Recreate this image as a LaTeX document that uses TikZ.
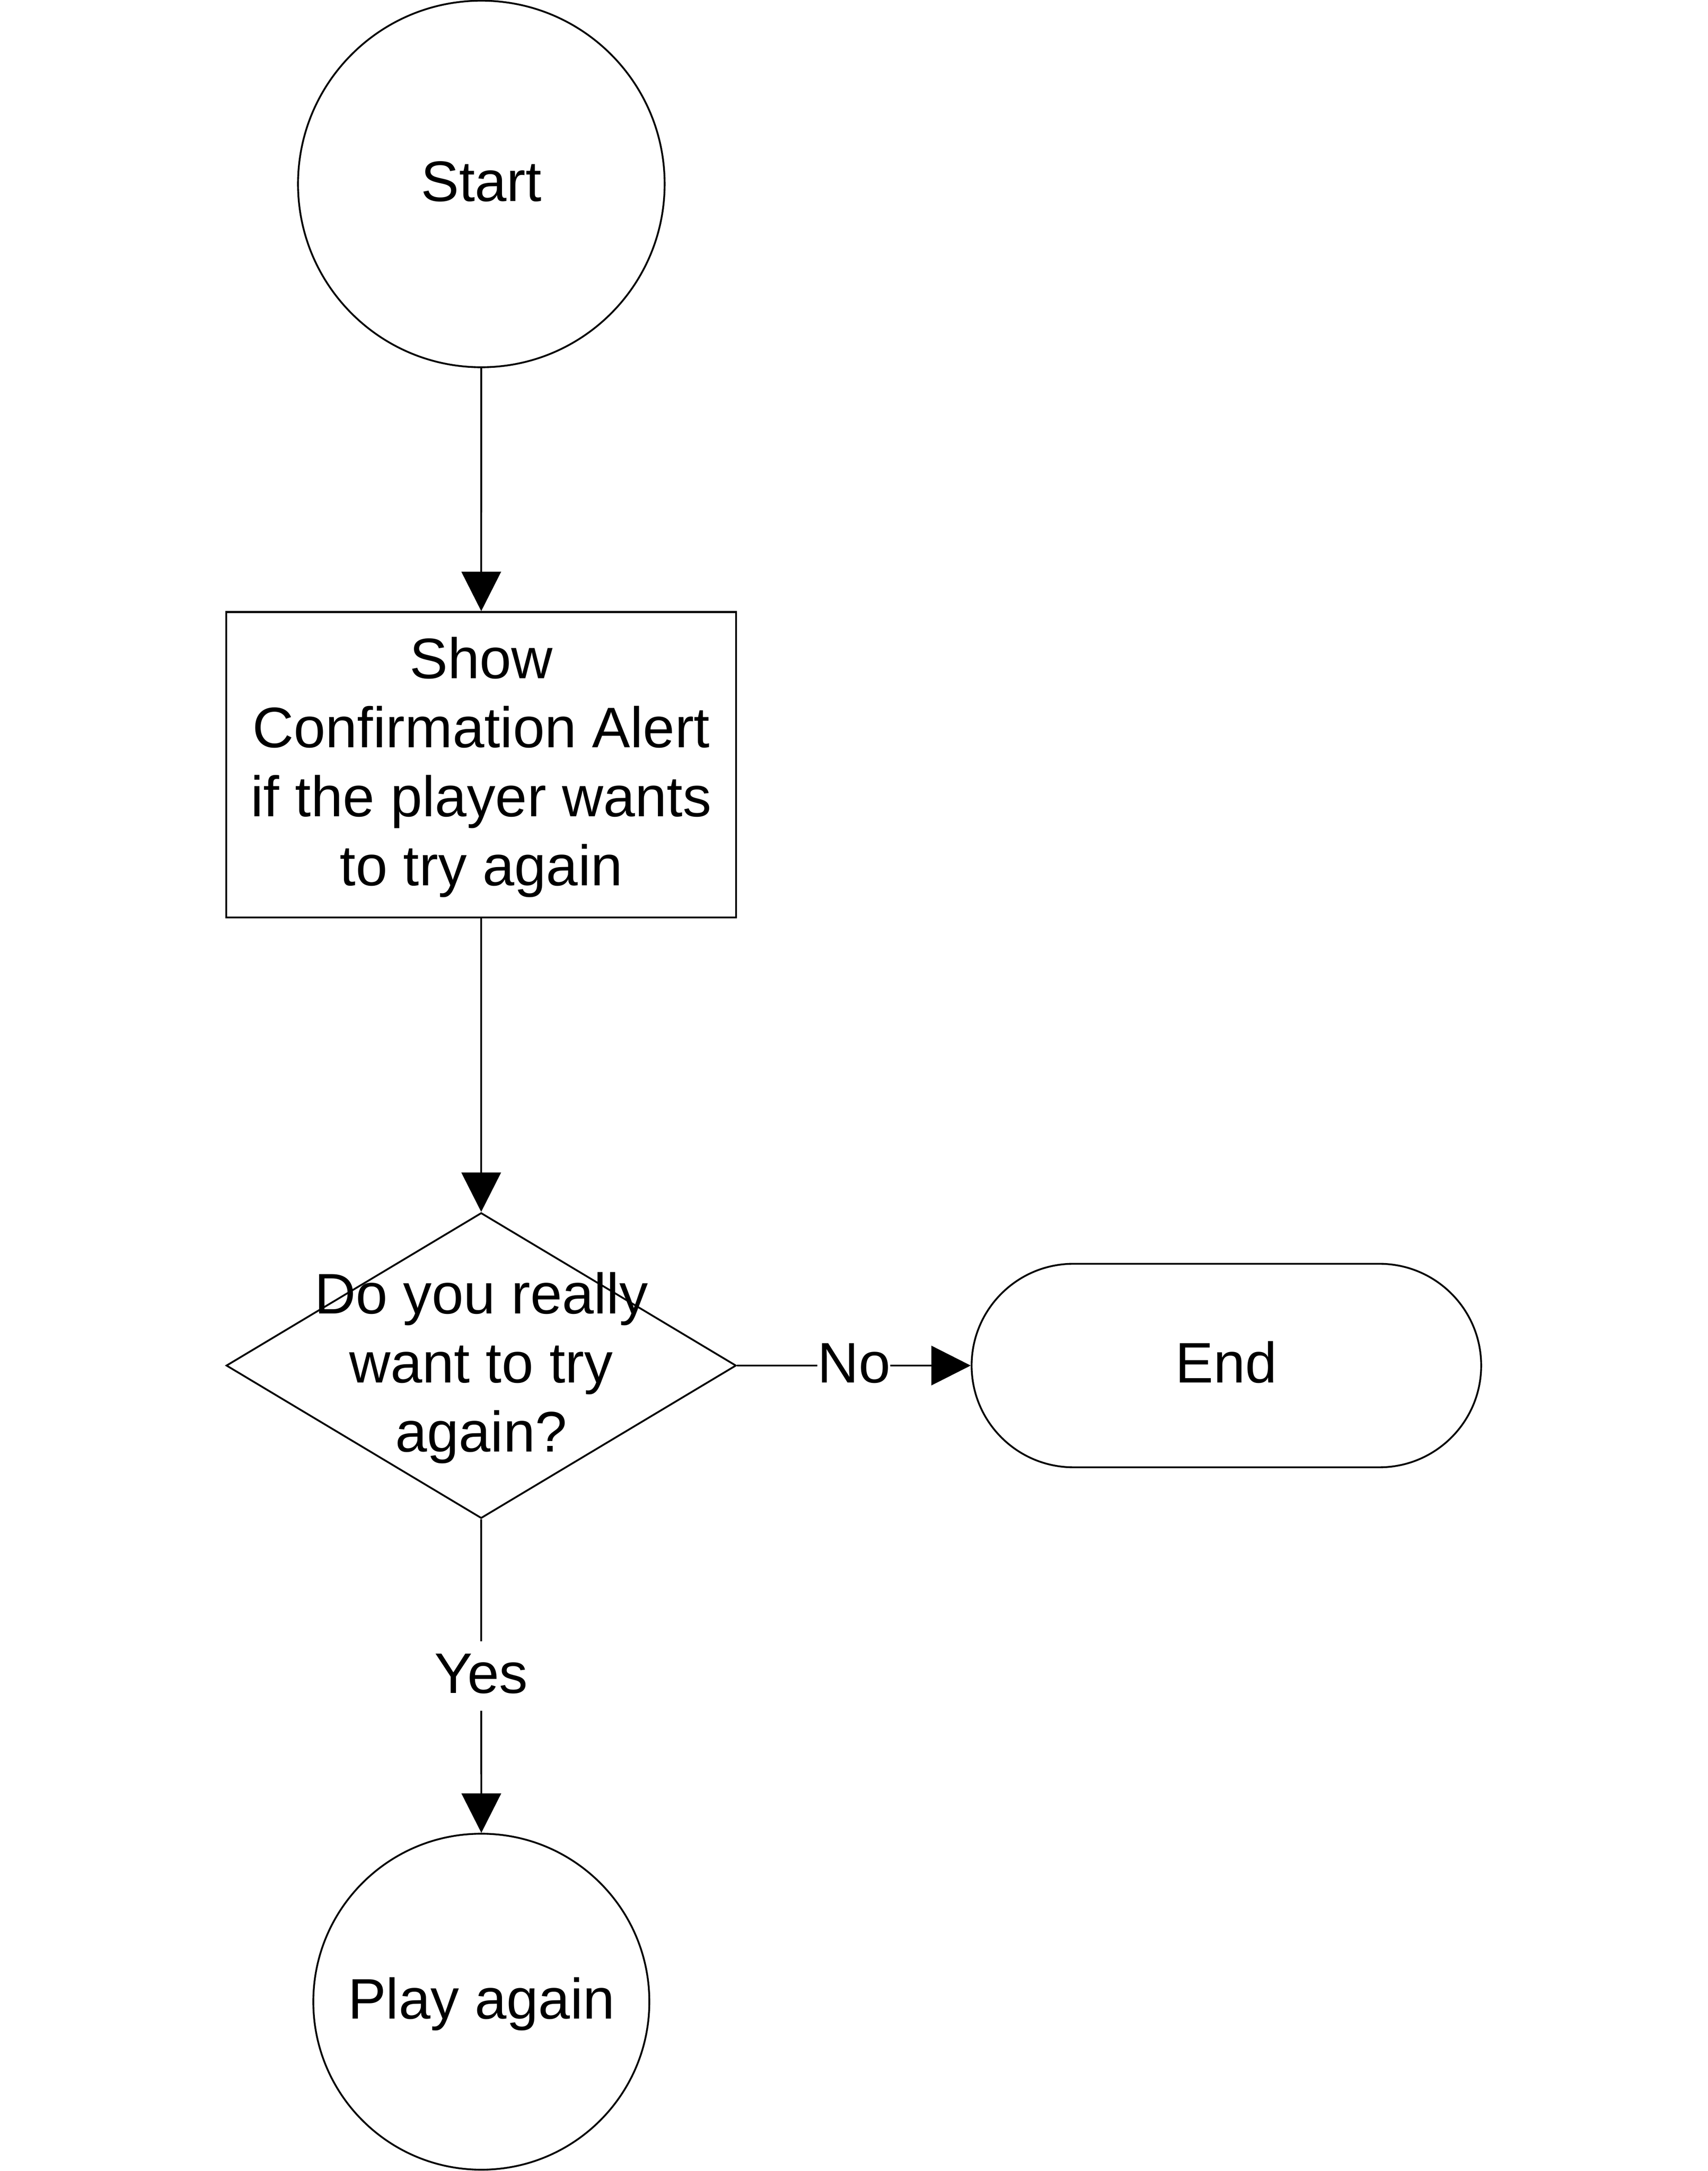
\documentclass[tikz,border=0pt]{standalone}
\usepackage{fontspec}
\setmainfont{Liberation Sans}
\usetikzlibrary{arrows.meta,shapes.geometric,shapes.misc}
\newcommand\vs{\rule[-12.6pt]{0pt}{50.2pt}}
\tikzset{
  txt/.style={inner sep=0pt, align=center, font=\fontsize{41.5pt}{50.2pt}\selectfont},
  base/.style={txt, draw=black, line width=1.3pt},
  circnode/.style={base, circle},
  procbox/.style={base, rectangle, minimum width=370pt, minimum height=221.9pt},
  decision/.style={base, diamond, minimum width=370.3pt, minimum height=221.9pt},
  termnode/.style={base, rounded rectangle, minimum width=370pt, minimum height=147.8pt},
  lbl/.style={txt, fill=white},
  arr/.style={line width=1.3pt, -{Triangle[length=28.6pt,width=28.6pt]}}
}
\begin{document}
\begin{tikzpicture}[x=1pt,y=-1pt]
\useasboundingbox (0,0) rectangle (1240,1576.66);
\node[circnode, minimum size=266.2pt] (start) at (349.5,133.6) {\vs Start};
\node[procbox] (show) at (349.4,555.4) {\vs Show\\Confirmation Alert\\if the player wants\\to try again\vs};
\node[decision] (dec) at (349.4,991.7) {};
\node[txt] (dectxt) at (dec.center) {\vs Do you really\\want to try\\again?\vs};
\node[termnode] (end) at (890.5,991.7) {\vs End};
\node[circnode, minimum size=244pt] (play) at (349.5,1453.7) {\vs Play again};
\draw[arr] (start) -- (show);
\draw[arr] (show) -- (dec);
\draw[arr] (dec.east) -- node[lbl] (no) {\vs No} (end.west);
\draw[arr] (dec.south) -- node[lbl] (yes) {\vs Yes} (play.north);
\end{tikzpicture}
\end{document}
